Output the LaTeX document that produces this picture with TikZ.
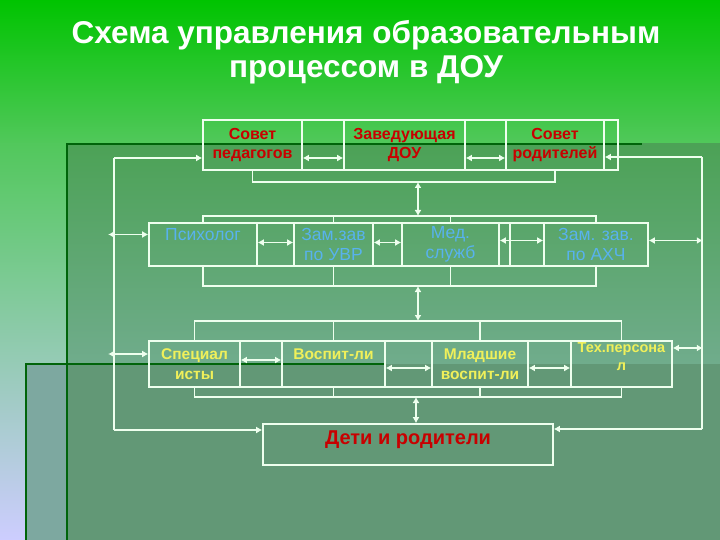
\documentclass[tikz,border=0pt]{standalone}
\usepackage{fontspec}
\setmainfont{Liberation Sans}
\usetikzlibrary{arrows.meta}

\definecolor{bgtop}{RGB}{0,196,0}
\definecolor{bgband}{RGB}{82,200,92}
\definecolor{bgmid}{RGB}{160,205,195}
\definecolor{bglav}{RGB}{205,205,255}
\definecolor{pantop}{RGB}{76,162,86}
\definecolor{panbot}{RGB}{112,172,140}
\definecolor{pandn}{RGB}{98,152,118}
\definecolor{pandnl}{RGB}{125,168,160}
\definecolor{dkline}{RGB}{0,100,10}
\definecolor{lin}{RGB}{238,255,238}
\definecolor{redt}{RGB}{200,0,0}
\definecolor{bluet}{RGB}{88,178,238}
\definecolor{yelt}{RGB}{240,240,90}

\begin{document}
\begin{tikzpicture}[x=1pt,y=-1pt,
    wire/.style={draw=lin, line width=1.6pt},
    tip/.style={wire, -{Latex[length=6pt,width=7pt]}},
    both/.style={wire, {Latex[length=6pt,width=7pt]}-{Latex[length=6pt,width=7pt]}},
    cell/.style={draw=lin, line width=1.6pt, inner sep=0pt, align=center},
    rowa/.style={cell, minimum height=50pt},
    rowb/.style={cell, minimum height=43pt},
    rowc/.style={cell, minimum height=46pt},
    rtxt/.style={text=redt, font=\bfseries\fontsize{16}{19}\selectfont},
    btxt/.style={text=bluet, font=\fontsize{17.5}{20}\selectfont},
    ytxt/.style={text=yelt, font=\bfseries\fontsize{15.5}{20}\selectfont}]
    \useasboundingbox (0,0) rectangle (720,540);

    % фон
    \shade[top color=bgtop, bottom color=bgband] (0,0) rectangle (720,145);
    \shade[top color=bgband, middle color=bgmid, bottom color=bglav] (0,144) rectangle (68,540);
    \shade[top color=pantop, bottom color=panbot] (68,144) rectangle (720,364);
    \fill[pandnl] (26,364) rectangle (68,540);
    \fill[pandn] (68,364) rectangle (720,540);
    \draw[dkline, line width=2pt] (67,540) -- (67,144) -- (642,144);
    \draw[dkline, line width=2pt] (26,540) -- (26,364) -- (385,364);

    % заголовок
    \node[text=white, align=center, font=\bfseries\fontsize{31.5}{34}\selectfont]
        (title) at (366,52) {Схема управления образовательным\\процессом в ДОУ};

    % 1 ряд
    \node[rowa, rtxt, minimum width=99pt] (sovped) at (252.5,145) {Совет\\педагогов};
    \node[rowa, minimum width=42pt] (ga1) at (323,145) {};
    \node[rowa, rtxt, minimum width=121pt] (zav) at (404.5,145) {Заведующая\\ДОУ};
    \node[rowa, minimum width=41pt] (ga2) at (485.5,145) {};
    \node[rowa, rtxt, minimum width=98pt] (sovrod) at (555,145) {Совет\\родителей};
    \node[rowa, minimum width=14pt] (ga3) at (611,145) {};

    % 2 ряд
    \node[rowb, btxt, minimum width=108pt] (psy) at (203,244.5) {Психолог\\\phantom{x}};
    \node[rowb, minimum width=37pt] (gb1) at (275.5,244.5) {};
    \node[rowb, btxt, minimum width=79pt] (uvr) at (333.5,244.5) {Зам.зав\\по УВР};
    \node[rowb, minimum width=29pt] (gb2) at (387.5,244.5) {};
    \node[rowb, btxt, minimum width=97pt] (med) at (450.5,244.5) {Мед.\\служб};
    \node[rowb, minimum width=11pt] (gb3) at (504.5,244.5) {};
    \node[rowb, minimum width=34pt] (gb4) at (527,244.5) {};
    \node[rowb, btxt, minimum width=104pt] (ahch) at (596,244.5) {Зам. зав.\\по АХЧ};

    % 3 ряд
    \node[rowc, ytxt, minimum width=91pt] (spec) at (194.5,364) {Специал\\исты};
    \node[rowc, minimum width=42pt] (gc1) at (261,364) {};
    \node[rowc, ytxt, minimum width=103pt] (vosp) at (333.5,364) {Воспит-ли\\\phantom{x}};
    \node[rowc, minimum width=47pt] (gc2) at (408.5,364) {};
    \node[rowc, ytxt, minimum width=96pt] (mlad) at (480,364) {Младшие\\воспит-ли};
    \node[rowc, minimum width=43pt] (gc3) at (549.5,364) {};
    \node[rowc, ytxt, minimum width=101pt, font=\bfseries\fontsize{14.5}{18}\selectfont,
        text depth=14pt] (tech) at (621.5,364) {Тех.персона\\л};

    % дети
    \node[cell, rtxt, minimum width=290pt, minimum height=41pt, text depth=14pt,
        font=\bfseries\fontsize{20}{22}\selectfont] (deti) at (408,444.5) {Дети и родители};

    % скобки
    \coordinate (b1) at (418,182);
    \coordinate (b2) at (418,216);
    \coordinate (b3) at (418,286);
    \coordinate (b4) at (418,321);
    \coordinate (b5) at (416,397);
    \draw[wire] (sovped.south) |- (b1) -| (sovrod.south);
    \draw[wire] (psy.north) |- (b2) -| (ahch.north);
    \draw[wire] (uvr.north) -- (uvr.north |- b2);
    \draw[wire] (med.north) -- (med.north |- b2);
    \draw[wire] (psy.south) |- (b3) -| (ahch.south);
    \draw[wire] (uvr.south) -- (uvr.south |- b3);
    \draw[wire] (med.south) -- (med.south |- b3);
    \draw[wire] (spec.north) |- (b4) -| (tech.north);
    \draw[wire] (vosp.north) -- (vosp.north |- b4);
    \draw[wire] (mlad.north) -- (mlad.north |- b4);
    \draw[wire] (spec.south) |- (b5) -| (tech.south);
    \draw[wire] (vosp.south) -- (vosp.south |- b5);
    \draw[wire] (mlad.south) -- (mlad.south |- b5);
    \draw[both] (b1) -- (b2);
    \draw[both] (b3) -- (b4);
    \draw[both] (b5) -- (b5 |- deti.north);

    % стрелки в рядах
    \draw[both] ([yshift=-13pt]sovped.east) -- ([yshift=-13pt]zav.west);
    \draw[both] ([yshift=-13pt]zav.east) -- ([yshift=-13pt]sovrod.west);
    \draw[both] ([yshift=2pt]psy.east) -- ([yshift=2pt]uvr.west);
    \draw[both] ([yshift=2pt]uvr.east) -- ([yshift=2pt]med.west);
    \draw[both] ([yshift=4pt]med.east) -- ([yshift=4pt]ahch.west);
    \draw[both] ([yshift=4pt]spec.east) -- ([yshift=4pt]vosp.west);
    \draw[both] ([yshift=-4pt]vosp.east) -- ([yshift=-4pt]mlad.west);
    \draw[both] ([yshift=-4pt]mlad.east) -- ([yshift=-4pt]tech.west);

    % боковые линии
    \coordinate (lt) at (114,158);
    \coordinate (lb) at (114,430);
    \coordinate (rt) at (702,157);
    \coordinate (rb) at (702,429);
    \draw[tip] (lt) -- ([yshift=-13pt]sovped.west);
    \draw[wire] (lt) -- (lb);
    \draw[tip] (lb) -- (deti.west |- lb);
    \draw[tip] (rt) -- ([yshift=-12pt]sovrod.east);
    \draw[wire] (rt) -- (rb);
    \draw[tip] (rb) -- (deti.east |- rb);
    \draw[both] ([yshift=10pt]psy.west) -- ++(-40,0);
    \draw[both] ([yshift=10pt]spec.west) -- ++(-40,0);
    \draw[both] ([yshift=4pt]ahch.east) -- ++(54,0);
    \draw[both] ([yshift=16pt]tech.east) -- ++(30,0);
\end{tikzpicture}
\end{document}
